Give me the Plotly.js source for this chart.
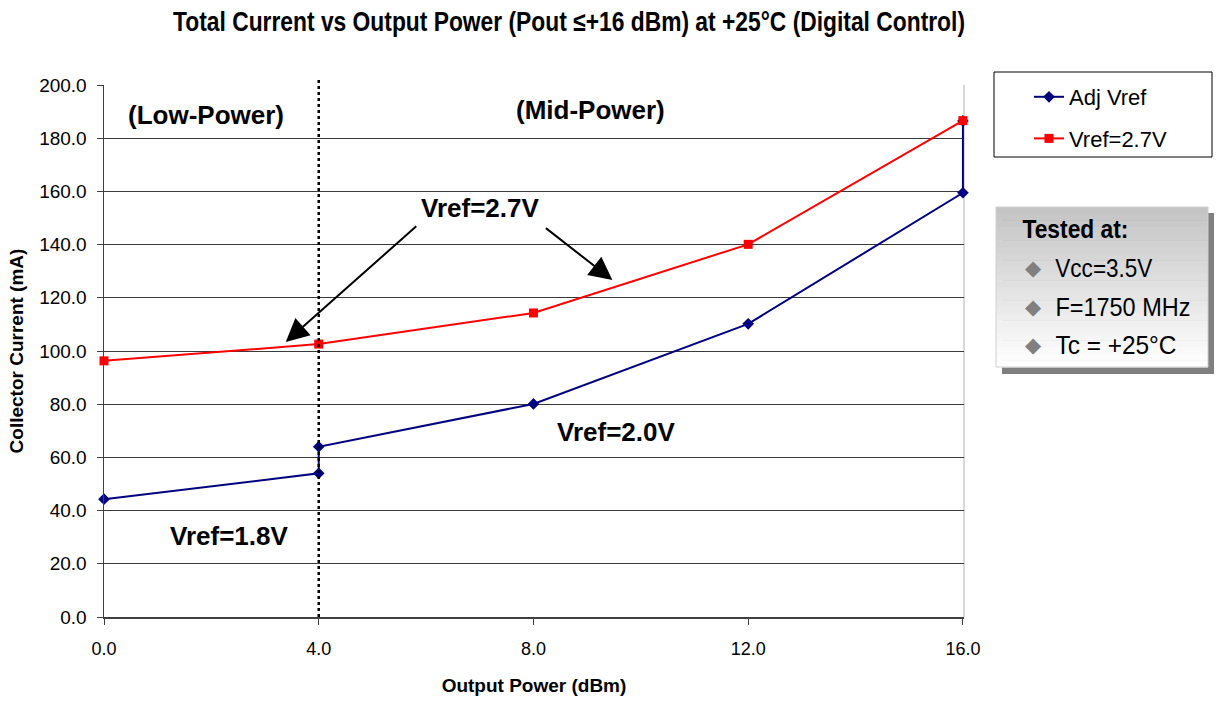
<!DOCTYPE html>
<html>
<head>
<meta charset="utf-8">
<script src="https://cdn.plot.ly/plotly-3.0.1.min.js"></script>
<style>html,body{margin:0;padding:0;background:#fff;}#chart{width:1220px;height:701px;}</style>
</head>
<body>
<div id="chart"></div>
<script>
// Data
const adjX = [0, 4, 4, 8, 12, 16, 16];
const adjY = [44.3, 54.0, 64.0, 80.1, 110.2, 159.5, 186.5];
const refX = [0, 4, 8, 12, 16];
const refY = [96.3, 102.6, 114.3, 140.1, 186.6];
const seriesNames = ["Adj Vref", "Vref=2.7V"];
const xTicks = [0, 4, 8, 12, 16];
const xTickLabels = ["0.0", "4.0", "8.0", "12.0", "16.0"];
const yTicks = [0, 20, 40, 60, 80, 100, 120, 140, 160, 180, 200];
const yTickLabels = ["0.0", "20.0", "40.0", "60.0", "80.0", "100.0", "120.0", "140.0", "160.0", "180.0", "200.0"];
const testedTitle = "Tested at:";
const testedItems = ["Vcc=3.5V", "F=1750 MHz", "Tc = +25°C"];
const titleText = "Total Current vs Output Power (Pout ≤+16 dBm) at +25°C (Digital Control)";

const W = 1220, H = 701;
const L = 104, R = 964, T = 85, B = 617;
const px = v => (v - L) / (R - L);          // pixel -> paper x
const py = v => (B - v) / (B - T);          // pixel -> paper y

const sans = "'Liberation Sans', Arial, sans-serif";
const narrow = "'Liberation Sans Narrow', 'Liberation Sans', Arial, sans-serif";

const traces = [
  {x: adjX, y: adjY, name: seriesNames[0], mode: "lines+markers", legendgroup: "a", cliponaxis: false,
   line: {color: "#000080", width: 2}, marker: {symbol: "diamond", size: 9, color: "#000080"}},
  {x: refX, y: refY, name: seriesNames[1], mode: "lines+markers", legendgroup: "b", cliponaxis: false,
   line: {color: "#ff0000", width: 2}, marker: {symbol: "square", size: 9, color: "#ff0000"}}
];

const shapes = [
  {type: "line", xref: "x", yref: "paper", x0: 4, x1: 4, y0: 0, y1: py(78),
   line: {color: "#000", width: 2.5, dash: "dot"}},
  {type: "line", xref: "paper", yref: "paper", x0: 1, x1: 1, y0: 0, y1: 1,
   line: {color: "#b0b0b0", width: 1}, layer: "below"},
  {type: "rect", xref: "paper", yref: "paper", x0: px(994), x1: px(1212), y0: py(157), y1: py(72),
   line: {color: "#000", width: 1}, fillcolor: "rgba(0,0,0,0)"},
  {type: "rect", xref: "paper", yref: "paper", x0: px(1002), x1: px(1214), y0: py(374), y1: py(213),
   line: {width: 0}, fillcolor: "#7f7f7f", layer: "above"}
];
const gx0 = 996, gx1 = 1208, gy0 = 207, gy1 = 367, nSteps = 24;
for (let i = 0; i < nSteps; i++) {
  const t = i / (nSteps - 1);
  const c = Math.round(196 + (255 - 196) * t);
  const ya = gy0 + (gy1 - gy0) * i / nSteps, yb = gy0 + (gy1 - gy0) * (i + 1) / nSteps;
  shapes.push({type: "rect", xref: "paper", yref: "paper", x0: px(gx0), x1: px(gx1), y0: py(yb + 0.5), y1: py(ya),
    line: {width: 0}, fillcolor: `rgb(${c},${c},${c})`, layer: "above"});
}
shapes.push({type: "rect", xref: "paper", yref: "paper", x0: px(gx0), x1: px(gx1), y0: py(gy1), y1: py(gy0),
  line: {color: "#d0d0d0", width: 1}, fillcolor: "rgba(0,0,0,0)", layer: "above"});

const bold = {family: sans, size: 26, color: "#000", weight: "bold"};
const annotations = [
  {x: 1.9, y: 188.7, xref: "x", yref: "y", text: "<b>(Low-Power)</b>", showarrow: false, font: bold},
  {x: 9.06, y: 190.6, xref: "x", yref: "y", text: "<b>(Mid-Power)</b>", showarrow: false, font: bold},
  {x: 7.01, y: 153.8, xref: "x", yref: "y", text: "<b>Vref=2.7V</b>", showarrow: false, font: bold},
  {x: 9.54, y: 69.5, xref: "x", yref: "y", text: "<b>Vref=2.0V</b>", showarrow: false, font: bold},
  {x: 2.33, y: 30.5, xref: "x", yref: "y", text: "<b>Vref=1.8V</b>", showarrow: false, font: bold},
  {x: 3.386, y: 103.4, xref: "x", yref: "y", ax: 132, ay: -117, text: "", showarrow: true,
   arrowhead: 2, arrowsize: 2.3, arrowwidth: 2, arrowcolor: "#000"},
  {x: 9.47, y: 126.7, xref: "x", yref: "y", ax: -68, ay: -53, text: "", showarrow: true,
   arrowhead: 2, arrowsize: 2.3, arrowwidth: 2, arrowcolor: "#000"},
  {x: px(1075), y: py(229), xref: "paper", yref: "paper", xanchor: "center", yanchor: "middle",
   text: "<b>" + testedTitle + "</b>", showarrow: false, font: {family: narrow, size: 26, color: "#000"}}
];
const itemY = [268, 307, 345];
const itemCenters = [1103.5, 1122.5, 1115.5];
testedItems.forEach((t, i) => {
  annotations.push({x: px(1033), y: py(itemY[i]), xref: "paper", yref: "paper", xanchor: "center", yanchor: "middle",
    text: "◆", showarrow: false, font: {family: "DejaVu Sans, sans-serif", size: 21, color: "#808080"}});
  annotations.push({x: px(itemCenters[i]), y: py(itemY[i]), xref: "paper", yref: "paper", xanchor: "center", yanchor: "middle",
    text: t, showarrow: false, font: {family: narrow, size: 25, color: "#000"}});
});

const layout = {
  width: W, height: H,
  margin: {l: L, r: W - R, t: T, b: H - B, pad: 0},
  paper_bgcolor: "#fff", plot_bgcolor: "#fff",
  title: {text: "<b>" + titleText + "</b>",
    font: {family: narrow, size: 27, color: "#000"},
    x: 569 / W, xref: "container", xanchor: "center", y: 1 - 22 / H, yref: "container", yanchor: "middle"},
  xaxis: {range: [0, 16.02], tickvals: xTicks, ticktext: xTickLabels, showgrid: false, zeroline: false,
    showline: true, linecolor: "#404040", linewidth: 1.5, ticks: "outside", ticklen: 6, tickcolor: "#404040",
    ticklabelstandoff: 9,
    tickfont: {family: sans, size: 18, color: "#000"},
    title: {text: "<b>Output Power (dBm)</b>", font: {family: sans, size: 19, color: "#000"}, standoff: 20}},
  yaxis: {range: [0, 200], tickvals: yTicks, ticktext: yTickLabels, showgrid: true, gridcolor: "#3a3a3a", gridwidth: 1,
    zeroline: false, showline: true, linecolor: "#404040", linewidth: 1.5, ticks: "outside", ticklen: 6, tickcolor: "#404040",
    ticklabelstandoff: 6,
    tickfont: {family: sans, size: 19, color: "#000"},
    title: {text: "<b>Collector Current (mA)</b>", font: {family: sans, size: 19, color: "#000"}, standoff: 10}},
  showlegend: true,
  legend: {x: px(1029), y: py(76), xanchor: "left", yanchor: "top", bgcolor: "rgba(0,0,0,0)", borderwidth: 0,
    font: {family: sans, size: 22, color: "#000"},
    traceorder: "grouped", tracegroupgap: 10},
  shapes: shapes,
  annotations: annotations
};

// Widths of the condensed texts in the reference (the narrow face is emulated by squeezing)
const squeeze = {};
squeeze[titleText] = 792;
squeeze[testedTitle] = 106;
squeeze[testedItems[0]] = 97;
squeeze[testedItems[1]] = 135;
squeeze[testedItems[2]] = 121;

Plotly.newPlot("chart", traces, layout, {displayModeBar: false, staticPlot: true}).then(gd => {
  gd.querySelectorAll("svg text").forEach(el => {
    const s = el.textContent;
    if (squeeze[s]) {
      el.setAttribute("textLength", squeeze[s]);
      el.setAttribute("lengthAdjust", "spacingAndGlyphs");
    }
  });
});
</script>
</body>
</html>
